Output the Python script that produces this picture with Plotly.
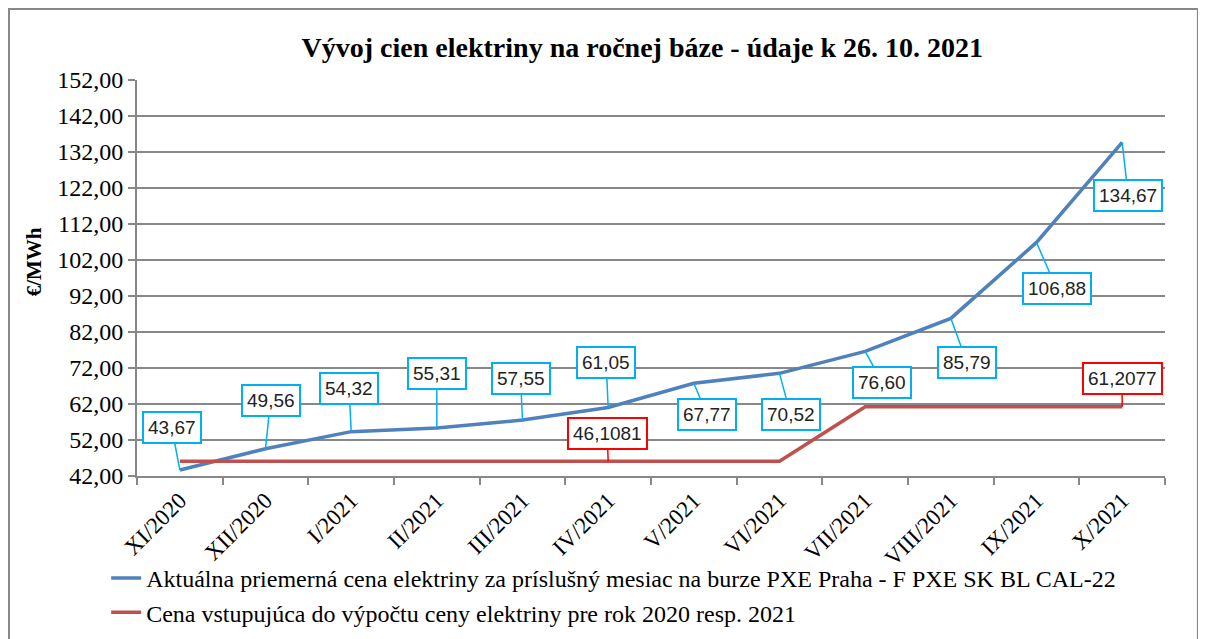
import plotly.graph_objects as go

# data
mesiace = ["XI/2020", "XII/2020", "I/2021", "II/2021", "III/2021", "IV/2021",
           "V/2021", "VI/2021", "VII/2021", "VIII/2021", "IX/2021", "X/2021"]
cena_pxe = [43.67, 49.56, 54.32, 55.31, 57.55, 61.05, 67.77, 70.52, 76.60, 85.79, 106.88, 134.67]
cena_vstup = [46.1081, 46.1081, 46.1081, 46.1081, 46.1081, 46.1081,
              46.1081, 46.1081, 61.2077, 61.2077, 61.2077, 61.2077]

nazov_pxe = "Aktuálna priemerná cena elektriny za príslušný mesiac na burze PXE Praha - F PXE SK BL CAL-22"
nazov_vstup = "Cena vstupujúca do výpočtu ceny elektriny pre rok 2020 resp. 2021"

# callout offsets (px) for the blue series
off_pxe = [(-8, -42), (5, -48), (-2, -43), (0, -55), (-2, -42), (-2, -45),
           (13, 31), (11, 41), (17, 31), (16, 44), (20, 46), (6, 53)]
# red series callouts: index, offset
off_vstup = [(5, (-1, -28)), (11, (0, -28))]

serif = "Liberation Serif, Times New Roman, serif"
sans = "Liberation Sans, Arial, sans-serif"

fig = go.Figure()
fig.add_trace(go.Scatter(x=mesiace, y=cena_pxe, mode="lines", name=nazov_pxe,
                         line=dict(color="#4F81BD", width=3.5)))
fig.add_trace(go.Scatter(x=mesiace, y=cena_vstup, mode="lines", name=nazov_vstup,
                         line=dict(color="#C0504D", width=3.5)))

def cislo(v, d):
    return f"{v:.{d}f}".replace(".", ",")

for i, (ax, ay) in enumerate(off_pxe):
    fig.add_annotation(x=mesiace[i], y=cena_pxe[i], text=cislo(cena_pxe[i], 2),
                       showarrow=True, arrowhead=0, arrowwidth=1.5, arrowcolor="#00B0F0",
                       ax=ax, ay=ay, bgcolor="white", bordercolor="#00B0F0",
                       borderwidth=2, borderpad=4, font=dict(family=sans, size=19, color="#222"))
for i, (ax, ay) in off_vstup:
    fig.add_annotation(x=mesiace[i], y=cena_vstup[i], text=cislo(cena_vstup[i], 4),
                       showarrow=True, arrowhead=0, arrowwidth=1.5, arrowcolor="#FF0000",
                       ax=ax, ay=ay, bgcolor="white", bordercolor="#FF0000",
                       borderwidth=2, borderpad=4, font=dict(family=sans, size=19, color="#222"))

# y-axis title
fig.add_annotation(text="<b>€/MWh</b>", xref="paper", yref="paper", x=-0.1, y=0.54,
                   xanchor="center", yanchor="middle",
                   textangle=-90, showarrow=False, font=dict(family=serif, size=21, color="black"))

# outer frame
fig.add_shape(type="rect", xref="paper", yref="paper", x0=-0.1245, x1=1.032, y0=-0.45, y1=1.1796,
              line=dict(color="#888888", width=2))

# page has an 8px body margin, so everything is shifted up/left by 8
fig.update_layout(
    width=1206, height=639,
    margin=dict(l=129, r=49, t=72, b=166),
    plot_bgcolor="white", paper_bgcolor="white",
    separators=",.",
    title=dict(text="<b>Vývoj cien elektriny na ročnej báze - údaje k 26. 10. 2021</b>",
               x=0.526, xanchor="center", y=0.939, yanchor="middle", xref="container", yref="container",
               font=dict(family=serif, size=28, color="black")),
    showlegend=True,
    legend=dict(x=-0.03, y=-0.202, xanchor="left", yanchor="top",
                orientation="v", font=dict(family=serif, size=24, color="black"),
                bgcolor="rgba(0,0,0,0)", itemwidth=30, tracegroupgap=0),
    xaxis=dict(type="category", range=[-0.5, 11.5], tickson="boundaries", ticks="outside",
               ticklen=7, tickcolor="#888888", tickwidth=2, showline=True, linecolor="#888888", linewidth=2,
               showgrid=False, tickangle=-45, automargin=False,
               tickfont=dict(family=serif, size=23, color="black")),
    yaxis=dict(range=[42, 152], tick0=42, dtick=10, tickformat=".2f", ticks="outside", ticklen=7,
               tickcolor="#888888", tickwidth=2, showline=True, linecolor="#888888", linewidth=2,
               showgrid=True, gridcolor="#888888", gridwidth=1.5, zeroline=False, automargin=False,
               tickfont=dict(family=serif, size=24, color="black")),
)

fig.write_html("out.html")
